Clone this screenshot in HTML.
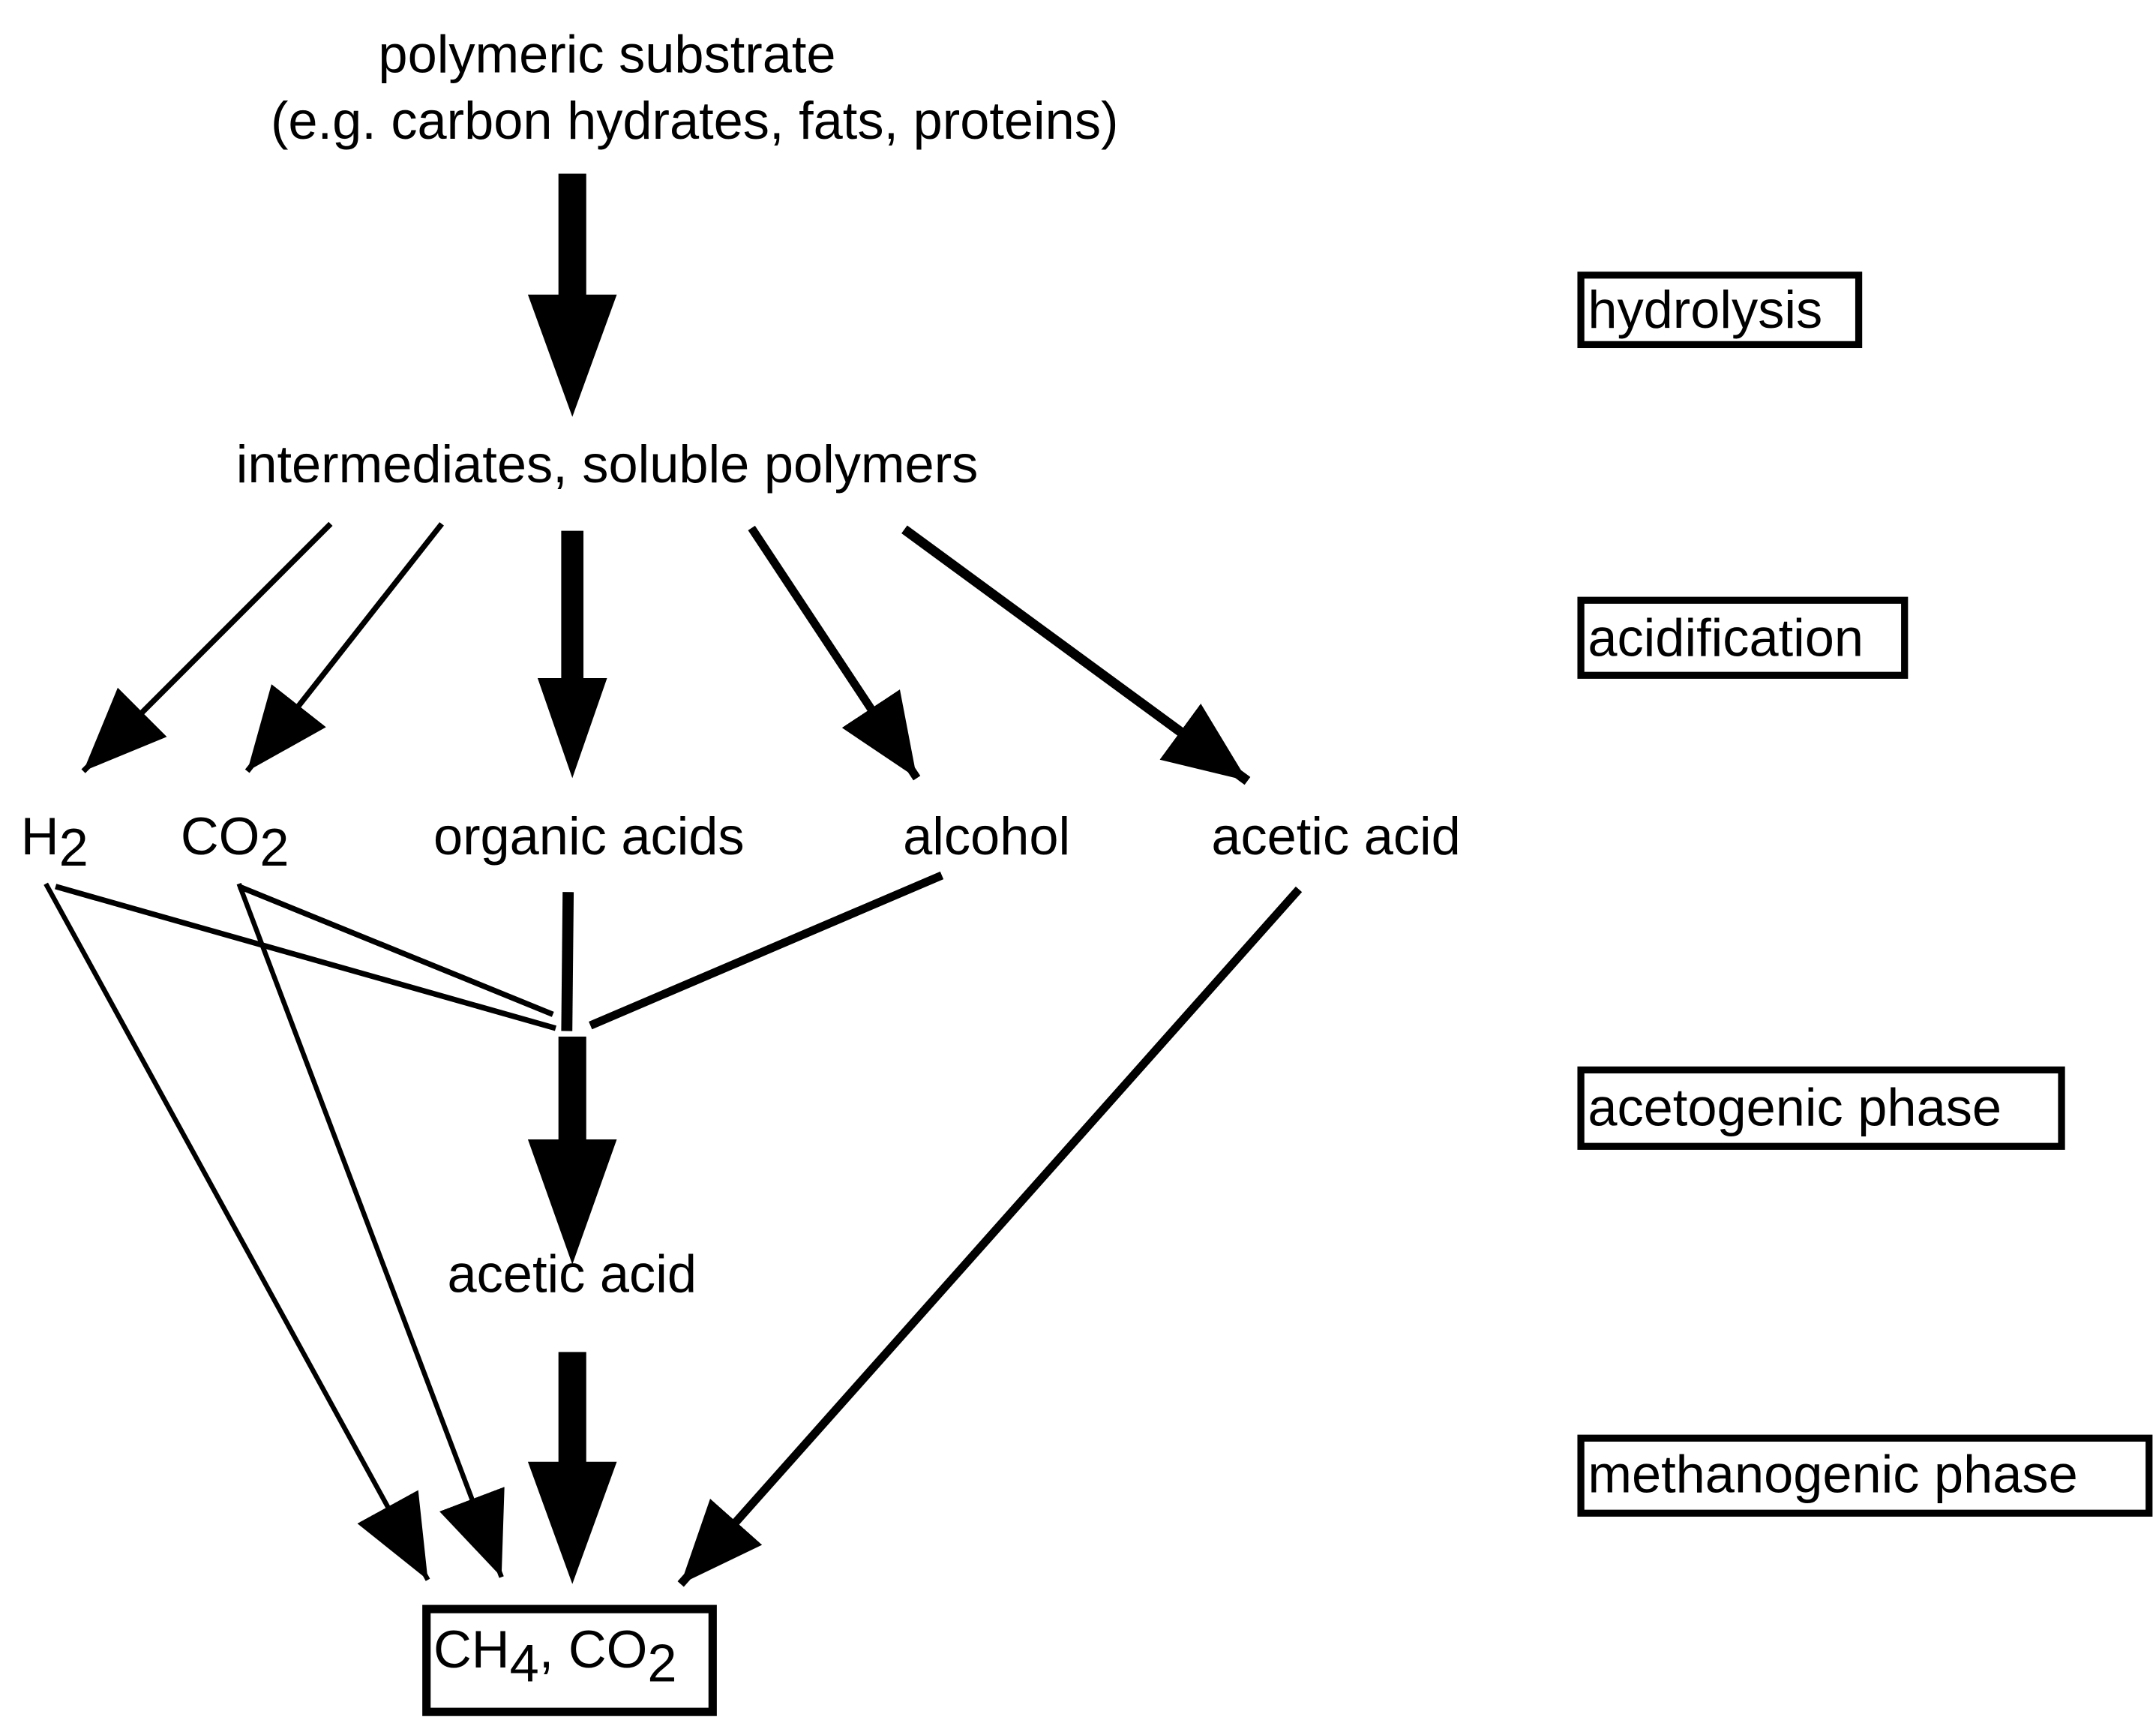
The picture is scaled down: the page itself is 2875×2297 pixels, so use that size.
<!DOCTYPE html>
<html><head><meta charset="utf-8"><style>html,body{margin:0;padding:0;background:#fff}svg{display:block}</style></head>
<body>
<svg width="2875" height="2297" viewBox="0 0 1552 1240" preserveAspectRatio="none" xmlns="http://www.w3.org/2000/svg" font-family="Liberation Sans, Arial, sans-serif" font-size="38">
<defs>
<marker id="ah" markerUnits="userSpaceOnUse" markerWidth="70" markerHeight="60" refX="60" refY="25" orient="auto" viewBox="0 0 70 60">
<polygon points="0,0 60,25 0,50" fill="#000"/>
</marker>
</defs>
<rect width="1552" height="1240" fill="#fff"/>
<g fill="#000">
<text x="437" y="52" text-anchor="middle">polymeric substrate</text>
<text x="500" y="100" text-anchor="middle">(e.g. carbon hydrates, fats, proteins)</text>
<text x="437" y="347" text-anchor="middle">intermediates, soluble polymers</text>
<text x="15" y="615">H<tspan dy="8">2</tspan></text>
<text x="130" y="615">CO<tspan dy="8">2</tspan></text>
<text x="312" y="615">organic acids</text>
<text x="650" y="615">alcohol</text>
<text x="872" y="615">acetic acid</text>
<text x="322" y="930">acetic acid</text>
<text x="312" y="1200">CH<tspan dy="10">4</tspan><tspan dy="-10">, CO</tspan><tspan dy="10">2</tspan></text>
<text x="1143" y="236">hydrolysis</text>
<text x="1143" y="472">acidification</text>
<text x="1143" y="810">acetogenic phase</text>
<text x="1143" y="1074">methanogenic phase</text>
</g>
<g fill="none" stroke="#000" stroke-width="5">
<rect x="1138" y="198" width="200" height="50"/>
<rect x="1138" y="432" width="233" height="54"/>
<rect x="1138" y="770" width="346" height="55"/>
<rect x="1138" y="1035" width="409" height="54"/>
<rect x="307" y="1158" width="206" height="74" stroke-width="6"/>
</g>
<!-- big vertical arrows -->
<g fill="#000">
<rect x="402" y="125" width="20" height="88"/><polygon points="380,212 444,212 412,300"/>
<rect x="404" y="382" width="16" height="107"/><polygon points="387,488 437,488 412,560"/>
<rect x="402" y="746" width="20" height="75"/><polygon points="380,820 444,820 412,910"/>
<rect x="402" y="973" width="20" height="80"/><polygon points="380,1052 444,1052 412,1140"/>
</g>
<g stroke="#000" fill="none">
<line x1="238" y1="377" x2="60" y2="555" stroke-width="4" marker-end="url(#ah)"/>
<line x1="318" y1="377" x2="178" y2="555" stroke-width="4" marker-end="url(#ah)"/>
<line x1="541" y1="380" x2="660" y2="560" stroke-width="6" marker-end="url(#ah)"/>
<line x1="651" y1="381" x2="898" y2="562" stroke-width="7" marker-end="url(#ah)"/>
<line x1="40" y1="638" x2="400" y2="740" stroke-width="4"/>
<line x1="172" y1="638" x2="398" y2="730" stroke-width="4"/>
<line x1="409" y1="642" x2="408" y2="742" stroke-width="8"/>
<line x1="678" y1="630" x2="425" y2="738" stroke-width="6"/>
<line x1="33" y1="636" x2="308" y2="1137" stroke-width="3.5" marker-end="url(#ah)"/>
<line x1="172" y1="636" x2="361" y2="1135" stroke-width="3.5" marker-end="url(#ah)"/>
<line x1="935" y1="640" x2="490" y2="1140" stroke-width="6" marker-end="url(#ah)"/>
</g>
</svg>
</body></html>
